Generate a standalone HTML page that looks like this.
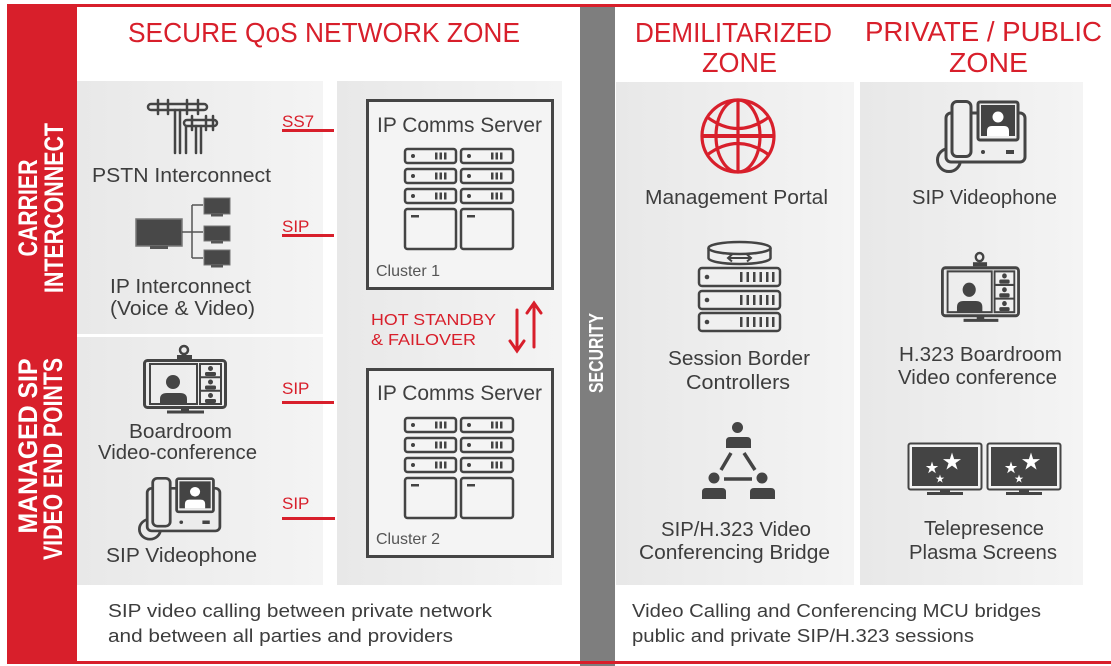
<!DOCTYPE html>
<html><head><meta charset="utf-8"><style>html,body{margin:0;padding:0;background:#fff}svg{display:block}</style></head>
<body>
<svg width="1111" height="666" viewBox="0 0 1111 666" xmlns="http://www.w3.org/2000/svg" font-family="'Liberation Sans', Arial, sans-serif">
<defs>
<linearGradient id="pg" x1="0" x2="1" y1="0" y2="0"><stop offset="0" stop-color="#e8e8e8"/><stop offset="1" stop-color="#f4f4f4"/></linearGradient>
</defs>
<rect width="1111" height="666" fill="#fff"/>

<!-- panels -->
<rect x="77" y="81" width="246" height="253" fill="url(#pg)"/>
<rect x="77" y="337" width="246" height="248" fill="url(#pg)"/>
<rect x="337" y="81" width="225" height="504" fill="url(#pg)"/>
<rect x="616" y="82" width="238" height="503" fill="url(#pg)"/>
<rect x="860" y="82" width="223" height="503" fill="url(#pg)"/>

<!-- security bar -->
<rect x="580" y="7" width="35" height="659" fill="#7e7e7e"/>

<!-- red frame -->
<rect x="7" y="4" width="1104" height="3" fill="#d81f2b"/>
<rect x="7" y="4" width="70" height="660" fill="#d81f2b"/>
<rect x="77" y="661" width="1034" height="3" fill="#d81f2b"/>

<!-- titles -->
<g fill="#d81f2b" font-size="28">
<text x="128" y="42" textLength="392" lengthAdjust="spacingAndGlyphs">SECURE QoS NETWORK ZONE</text>
<text x="635" y="42" textLength="197" lengthAdjust="spacingAndGlyphs">DEMILITARIZED</text>
<text x="702" y="72" textLength="75" lengthAdjust="spacingAndGlyphs">ZONE</text>
<text x="865" y="41" textLength="237" lengthAdjust="spacingAndGlyphs">PRIVATE / PUBLIC</text>
<text x="949" y="72" textLength="79" lengthAdjust="spacingAndGlyphs">ZONE</text>
</g>

<!-- vertical labels -->
<g fill="#fff" font-weight="bold" font-size="27" text-anchor="middle">
<text transform="translate(37,208) rotate(-90)" textLength="97" lengthAdjust="spacingAndGlyphs">CARRIER</text>
<text transform="translate(63,208) rotate(-90)" textLength="170" lengthAdjust="spacingAndGlyphs">INTERCONNECT</text>
<text transform="translate(37,446) rotate(-90)" textLength="175" lengthAdjust="spacingAndGlyphs">MANAGED SIP</text>
<text transform="translate(62,459) rotate(-90)" textLength="202" lengthAdjust="spacingAndGlyphs">VIDEO END POINTS</text>
<text transform="translate(603,353) rotate(-90)" font-size="20" textLength="80" lengthAdjust="spacingAndGlyphs">SECURITY</text>
</g>

<!-- server boxes -->
<rect x="367.5" y="100.5" width="185" height="188" fill="#f4f4f4" stroke="#454545" stroke-width="3"/>
<rect x="367.5" y="369.5" width="185" height="187" fill="#f4f4f4" stroke="#454545" stroke-width="3"/>

<g id="srv1" transform="translate(404,148)">
<g fill="#f4f4f4" stroke="#444" stroke-width="2.5">
<rect x="1" y="1" width="51" height="14" rx="2.5"/>
<rect x="1" y="21" width="51" height="14" rx="2.5"/>
<rect x="1" y="41" width="51" height="14" rx="2.5"/>
<rect x="1" y="61" width="51" height="40" rx="2.5"/>
<rect x="57" y="1" width="52" height="14" rx="2.5"/>
<rect x="57" y="21" width="52" height="14" rx="2.5"/>
<rect x="57" y="41" width="52" height="14" rx="2.5"/>
<rect x="57" y="61" width="52" height="40" rx="2.5"/>
</g>
<g fill="#444">
<circle cx="9" cy="8" r="2"/><circle cx="9" cy="28" r="2"/><circle cx="9" cy="48" r="2"/>
<circle cx="65" cy="8" r="2"/><circle cx="65" cy="28" r="2"/><circle cx="65" cy="48" r="2"/>
<rect x="31" y="4.5" width="2.5" height="7"/><rect x="35.5" y="4.5" width="2.5" height="7"/><rect x="40" y="4.5" width="2.5" height="7"/>
<rect x="31" y="24.5" width="2.5" height="7"/><rect x="35.5" y="24.5" width="2.5" height="7"/><rect x="40" y="24.5" width="2.5" height="7"/>
<rect x="31" y="44.5" width="2.5" height="7"/><rect x="35.5" y="44.5" width="2.5" height="7"/><rect x="40" y="44.5" width="2.5" height="7"/>
<rect x="87" y="4.5" width="2.5" height="7"/><rect x="91.5" y="4.5" width="2.5" height="7"/><rect x="96" y="4.5" width="2.5" height="7"/>
<rect x="87" y="24.5" width="2.5" height="7"/><rect x="91.5" y="24.5" width="2.5" height="7"/><rect x="96" y="24.5" width="2.5" height="7"/>
<rect x="87" y="44.5" width="2.5" height="7"/><rect x="91.5" y="44.5" width="2.5" height="7"/><rect x="96" y="44.5" width="2.5" height="7"/>
<rect x="7" y="67" width="8" height="2.5"/><rect x="63" y="67" width="8" height="2.5"/>
</g>
</g>
<g transform="translate(404,417)">
<g fill="#f4f4f4" stroke="#444" stroke-width="2.5">
<rect x="1" y="1" width="51" height="14" rx="2.5"/>
<rect x="1" y="21" width="51" height="14" rx="2.5"/>
<rect x="1" y="41" width="51" height="14" rx="2.5"/>
<rect x="1" y="61" width="51" height="40" rx="2.5"/>
<rect x="57" y="1" width="52" height="14" rx="2.5"/>
<rect x="57" y="21" width="52" height="14" rx="2.5"/>
<rect x="57" y="41" width="52" height="14" rx="2.5"/>
<rect x="57" y="61" width="52" height="40" rx="2.5"/>
</g>
<g fill="#444">
<circle cx="9" cy="8" r="2"/><circle cx="9" cy="28" r="2"/><circle cx="9" cy="48" r="2"/>
<circle cx="65" cy="8" r="2"/><circle cx="65" cy="28" r="2"/><circle cx="65" cy="48" r="2"/>
<rect x="31" y="4.5" width="2.5" height="7"/><rect x="35.5" y="4.5" width="2.5" height="7"/><rect x="40" y="4.5" width="2.5" height="7"/>
<rect x="31" y="24.5" width="2.5" height="7"/><rect x="35.5" y="24.5" width="2.5" height="7"/><rect x="40" y="24.5" width="2.5" height="7"/>
<rect x="31" y="44.5" width="2.5" height="7"/><rect x="35.5" y="44.5" width="2.5" height="7"/><rect x="40" y="44.5" width="2.5" height="7"/>
<rect x="87" y="4.5" width="2.5" height="7"/><rect x="91.5" y="4.5" width="2.5" height="7"/><rect x="96" y="4.5" width="2.5" height="7"/>
<rect x="87" y="24.5" width="2.5" height="7"/><rect x="91.5" y="24.5" width="2.5" height="7"/><rect x="96" y="24.5" width="2.5" height="7"/>
<rect x="87" y="44.5" width="2.5" height="7"/><rect x="91.5" y="44.5" width="2.5" height="7"/><rect x="96" y="44.5" width="2.5" height="7"/>
<rect x="7" y="67" width="8" height="2.5"/><rect x="63" y="67" width="8" height="2.5"/>
</g>
</g>

<g fill="#404040">
<text x="377" y="132" font-size="21" textLength="165" lengthAdjust="spacingAndGlyphs">IP Comms Server</text>
<text x="377" y="400" font-size="21" textLength="165" lengthAdjust="spacingAndGlyphs">IP Comms Server</text>
<text x="376" y="276" font-size="16" fill="#555" textLength="64" lengthAdjust="spacingAndGlyphs">Cluster 1</text>
<text x="376" y="544" font-size="16" fill="#555" textLength="64" lengthAdjust="spacingAndGlyphs">Cluster 2</text>
</g>

<!-- hot standby -->
<g fill="#d81f2b" font-size="16">
<text x="371" y="325" textLength="125" lengthAdjust="spacingAndGlyphs">HOT STANDBY</text>
<text x="371" y="345" textLength="105" lengthAdjust="spacingAndGlyphs">&amp; FAILOVER</text>
</g>
<g stroke="#d81f2b" stroke-width="3" fill="none" stroke-linecap="round">
<line x1="517" y1="310" x2="517" y2="350"/>
<polyline points="510,341 517,351 524,341"/>
<line x1="534" y1="304" x2="534" y2="347"/>
<polyline points="527,313 534,303 541,313"/>
</g>

<!-- SIP / SS7 connectors -->
<g fill="#d81f2b" font-size="17">
<text x="282" y="127">SS7</text>
<rect x="282" y="129" width="52" height="3"/>
<text x="282" y="232">SIP</text>
<rect x="282" y="234" width="52" height="3"/>
<text x="282" y="394">SIP</text>
<rect x="282" y="401" width="52" height="3"/>
<text x="282" y="509">SIP</text>
<rect x="282" y="517" width="53" height="3"/>
</g>

<!-- PSTN pole icon -->
<g stroke="#444" stroke-width="2.5" fill="none" stroke-linecap="round">
<rect x="148" y="104" width="59" height="6" rx="3"/>
<line x1="158" y1="100" x2="158" y2="114"/><line x1="168" y1="100" x2="168" y2="114"/>
<line x1="187" y1="100" x2="187" y2="114"/><line x1="198" y1="100" x2="198" y2="114"/>
<line x1="175" y1="110" x2="175" y2="153"/><line x1="180" y1="110" x2="180" y2="153"/>
<rect x="184" y="120" width="33" height="6" rx="3"/>
<line x1="192" y1="116" x2="192" y2="130"/><line x1="206" y1="116" x2="206" y2="130"/><line x1="213" y1="116" x2="213" y2="130"/>
<line x1="186" y1="126" x2="186" y2="153"/>
<line x1="196" y1="126" x2="196" y2="153"/><line x1="201" y1="126" x2="201" y2="153"/>
</g>

<!-- IP interconnect icon -->
<g>
<rect x="136" y="219" width="46" height="27" fill="#484848" stroke="#777" stroke-width="1.5"/>
<rect x="150" y="246" width="18" height="3" fill="#555"/>
<g stroke="#555" stroke-width="1.5" fill="none">
<line x1="182" y1="232" x2="192" y2="232"/>
<line x1="192" y1="205" x2="192" y2="258"/>
<line x1="192" y1="205" x2="203" y2="205"/>
<line x1="192" y1="232" x2="203" y2="232"/>
<line x1="192" y1="258" x2="203" y2="258"/>
</g>
<rect x="204" y="198" width="26" height="16" fill="#484848" stroke="#777" stroke-width="1"/>
<rect x="211" y="214" width="12" height="2.5" fill="#555"/>
<rect x="204" y="226" width="26" height="15" fill="#484848" stroke="#777" stroke-width="1"/>
<rect x="211" y="241" width="12" height="2.5" fill="#555"/>
<rect x="204" y="250" width="26" height="15" fill="#484848" stroke="#777" stroke-width="1"/>
<rect x="211" y="265" width="12" height="2.5" fill="#555"/>
</g>

<!-- boardroom left -->
<g transform="translate(143,345)">
<circle cx="41" cy="5" r="4" fill="none" stroke="#444" stroke-width="2.5"/>
<rect x="34" y="10" width="15" height="4" fill="#444"/>
<rect x="1.5" y="15.5" width="81" height="47" rx="3" fill="none" stroke="#444" stroke-width="3"/>
<rect x="7" y="19" width="47" height="40" fill="none" stroke="#444" stroke-width="2"/>
<circle cx="30" cy="37" r="7" fill="#444"/>
<path d="M17,59 L17,54 Q17,48 24,48 L37,48 Q44,48 44,54 L44,59 Z" fill="#444"/>
<rect x="57" y="19" width="21" height="40" fill="none" stroke="#444" stroke-width="2"/>
<line x1="57" y1="32.3" x2="78" y2="32.3" stroke="#444" stroke-width="2"/>
<line x1="57" y1="45.7" x2="78" y2="45.7" stroke="#444" stroke-width="2"/>
<g fill="#444">
<circle cx="67.5" cy="23.5" r="2.5"/><rect x="62" y="27" width="11" height="4" rx="1.5"/>
<circle cx="67.5" cy="37" r="2.5"/><rect x="62" y="40.5" width="11" height="4" rx="1.5"/>
<circle cx="67.5" cy="50.5" r="2.5"/><rect x="62" y="54" width="11" height="4" rx="1.5"/>
</g>
<rect x="38" y="62" width="8" height="4" fill="#444"/>
<rect x="24" y="65.5" width="37" height="3" fill="#444"/>
</g>

<!-- boardroom right -->
<g transform="translate(941,252) scale(0.94,1.02)">
<circle cx="41" cy="5" r="4" fill="none" stroke="#444" stroke-width="2.5"/>
<rect x="34" y="10" width="15" height="4" fill="#444"/>
<rect x="1.5" y="15.5" width="81" height="47" rx="3" fill="none" stroke="#444" stroke-width="3"/>
<rect x="7" y="19" width="47" height="40" fill="none" stroke="#444" stroke-width="2"/>
<circle cx="30" cy="37" r="7" fill="#444"/>
<path d="M17,59 L17,54 Q17,48 24,48 L37,48 Q44,48 44,54 L44,59 Z" fill="#444"/>
<rect x="57" y="19" width="21" height="40" fill="none" stroke="#444" stroke-width="2"/>
<line x1="57" y1="32.3" x2="78" y2="32.3" stroke="#444" stroke-width="2"/>
<line x1="57" y1="45.7" x2="78" y2="45.7" stroke="#444" stroke-width="2"/>
<g fill="#444">
<circle cx="67.5" cy="23.5" r="2.5"/><rect x="62" y="27" width="11" height="4" rx="1.5"/>
<circle cx="67.5" cy="37" r="2.5"/><rect x="62" y="40.5" width="11" height="4" rx="1.5"/>
<circle cx="67.5" cy="50.5" r="2.5"/><rect x="62" y="54" width="11" height="4" rx="1.5"/>
</g>
<rect x="38" y="62" width="8" height="4" fill="#444"/>
<rect x="24" y="65.5" width="37" height="3" fill="#444"/>
</g>

<!-- videophone right -->
<g transform="translate(936,100)">
<circle cx="13" cy="60" r="11.5" fill="none" stroke="#444" stroke-width="3"/>
<rect x="10" y="13" width="79" height="49" rx="5" fill="#efefef" stroke="#444" stroke-width="3"/>
<rect x="16" y="1.5" width="19" height="55" rx="5" fill="#efefef" stroke="#444" stroke-width="3"/>
<rect x="42" y="2" width="40" height="38" rx="2" fill="#efefef" stroke="#444" stroke-width="3"/>
<rect x="45" y="5" width="34" height="31" fill="#444"/>
<circle cx="62" cy="17" r="5.5" fill="#fff"/>
<path d="M51,36 L51,31 Q51,26 56,26 L68,26 Q73,26 73,31 L73,36 Z" fill="#fff"/>
<circle cx="47" cy="52" r="2" fill="#444"/>
<rect x="70" y="50" width="8" height="4" fill="#444"/>
</g>

<!-- videophone left -->
<g transform="translate(138,477) scale(0.92,0.87)">
<circle cx="13" cy="60" r="11.5" fill="none" stroke="#444" stroke-width="3"/>
<rect x="10" y="13" width="79" height="49" rx="5" fill="#ececec" stroke="#444" stroke-width="3"/>
<rect x="16" y="1.5" width="19" height="55" rx="5" fill="#ececec" stroke="#444" stroke-width="3"/>
<rect x="42" y="2" width="40" height="38" rx="2" fill="#ececec" stroke="#444" stroke-width="3"/>
<rect x="45" y="5" width="34" height="31" fill="#444"/>
<circle cx="62" cy="17" r="5.5" fill="#fff"/>
<path d="M51,36 L51,31 Q51,26 56,26 L68,26 Q73,26 73,31 L73,36 Z" fill="#fff"/>
<circle cx="47" cy="52" r="2" fill="#444"/>
<rect x="70" y="50" width="8" height="4" fill="#444"/>
</g>

<!-- globe -->
<g stroke="#d81f2b" stroke-width="3.2" fill="none">
<circle cx="738" cy="136" r="36"/>
<ellipse cx="738" cy="136" rx="22" ry="36"/>
<line x1="738" y1="100" x2="738" y2="172"/>
<line x1="702" y1="136" x2="774" y2="136" stroke-width="4"/>
<path d="M707,117 Q738,140 769,117"/>
<path d="M707,155 Q738,132 769,155"/>
</g>

<!-- SBC icon -->
<g stroke="#444" stroke-width="2.5" fill="#f0f0f0">
<path d="M708.5,248 L708.5,258 A31,6 0 0 0 770.5,258 L770.5,248"/>
<ellipse cx="739.5" cy="248" rx="31" ry="6"/>
<rect x="699" y="268" width="81" height="18" rx="3"/>
<rect x="699" y="291" width="81" height="18" rx="3"/>
<rect x="699" y="313" width="81" height="18" rx="3"/>
</g>
<g stroke="#444" stroke-width="2" fill="none">
<line x1="728" y1="258" x2="751" y2="258"/>
<polyline points="732,254.5 728,258 732,261.5"/>
<polyline points="747,254.5 751,258 747,261.5"/>
</g>
<g fill="#444">
<circle cx="707" cy="277" r="2.3"/><circle cx="707" cy="300" r="2.3"/><circle cx="707" cy="322" r="2.3"/>
<rect x="740" y="272" width="2.5" height="10"/><rect x="746.5" y="272" width="2.5" height="10"/><rect x="753" y="272" width="2.5" height="10"/><rect x="759.5" y="272" width="2.5" height="10"/><rect x="766" y="272" width="2.5" height="10"/><rect x="772" y="272" width="2.5" height="10"/>
<rect x="740" y="295" width="2.5" height="10"/><rect x="746.5" y="295" width="2.5" height="10"/><rect x="753" y="295" width="2.5" height="10"/><rect x="759.5" y="295" width="2.5" height="10"/><rect x="766" y="295" width="2.5" height="10"/><rect x="772" y="295" width="2.5" height="10"/>
<rect x="740" y="317" width="2.5" height="10"/><rect x="746.5" y="317" width="2.5" height="10"/><rect x="753" y="317" width="2.5" height="10"/><rect x="759.5" y="317" width="2.5" height="10"/><rect x="766" y="317" width="2.5" height="10"/><rect x="772" y="317" width="2.5" height="10"/>
</g>

<!-- bridge icon -->
<g fill="#444">
<circle cx="737.5" cy="427.5" r="5.5"/>
<path d="M726,448 L726,441 Q726,437 730,437 L747,437 Q751,437 751,441 L751,448 Z"/>
<circle cx="714" cy="478" r="5.5"/>
<path d="M702,499 L702,492 Q702,488 706,488 L722,488 Q726,488 726,492 L726,499 Z"/>
<circle cx="762" cy="478" r="5.5"/>
<path d="M750,499 L750,492 Q750,488 754,488 L771,488 Q775,488 775,492 L775,499 Z"/>
</g>
<g stroke="#444" stroke-width="3.5">
<line x1="731" y1="453" x2="721" y2="470"/>
<line x1="744" y1="453" x2="755" y2="470"/>
<line x1="724" y1="479" x2="752" y2="479"/>
</g>

<!-- telepresence -->
<g>
<rect x="908.5" y="443.5" width="73" height="46" rx="2" fill="#f4f4f4" stroke="#444" stroke-width="2"/>
<rect x="912" y="447" width="66" height="39" fill="#444"/>
<rect x="940" y="490" width="10" height="3" fill="#444"/>
<rect x="927" y="492" width="36" height="3" fill="#444"/>
<rect x="987.5" y="443.5" width="73" height="46" rx="2" fill="#f4f4f4" stroke="#444" stroke-width="2"/>
<rect x="991" y="447" width="66" height="39" fill="#444"/>
<rect x="1019" y="490" width="10" height="3" fill="#444"/>
<rect x="1006" y="492" width="36" height="3" fill="#444"/>
<g fill="#fff">
<polygon transform="translate(952,462) scale(9.5)" points="0,-1 0.2245,-0.309 0.951,-0.309 0.363,0.118 0.588,0.809 0,0.382 -0.588,0.809 -0.363,0.118 -0.951,-0.309 -0.2245,-0.309"/>
<polygon transform="translate(932,468) scale(6.5)" points="0,-1 0.2245,-0.309 0.951,-0.309 0.363,0.118 0.588,0.809 0,0.382 -0.588,0.809 -0.363,0.118 -0.951,-0.309 -0.2245,-0.309"/>
<polygon transform="translate(940,479) scale(4.5)" points="0,-1 0.2245,-0.309 0.951,-0.309 0.363,0.118 0.588,0.809 0,0.382 -0.588,0.809 -0.363,0.118 -0.951,-0.309 -0.2245,-0.309"/>
<polygon transform="translate(1031,462) scale(9.5)" points="0,-1 0.2245,-0.309 0.951,-0.309 0.363,0.118 0.588,0.809 0,0.382 -0.588,0.809 -0.363,0.118 -0.951,-0.309 -0.2245,-0.309"/>
<polygon transform="translate(1011,468) scale(6.5)" points="0,-1 0.2245,-0.309 0.951,-0.309 0.363,0.118 0.588,0.809 0,0.382 -0.588,0.809 -0.363,0.118 -0.951,-0.309 -0.2245,-0.309"/>
<polygon transform="translate(1019,479) scale(4.5)" points="0,-1 0.2245,-0.309 0.951,-0.309 0.363,0.118 0.588,0.809 0,0.382 -0.588,0.809 -0.363,0.118 -0.951,-0.309 -0.2245,-0.309"/>
</g>
</g>

<!-- labels -->
<g fill="#3d3d3d" font-size="20">
<text x="92" y="182" textLength="179" lengthAdjust="spacingAndGlyphs">PSTN Interconnect</text>
<text x="110" y="293" textLength="141" lengthAdjust="spacingAndGlyphs">IP Interconnect</text>
<text x="110" y="315" textLength="145" lengthAdjust="spacingAndGlyphs">(Voice &amp; Video)</text>
<text x="129" y="438" textLength="103" lengthAdjust="spacingAndGlyphs">Boardroom</text>
<text x="98" y="459" textLength="159" lengthAdjust="spacingAndGlyphs">Video-conference</text>
<text x="106" y="562" textLength="151" lengthAdjust="spacingAndGlyphs">SIP Videophone</text>

<text x="645" y="204" textLength="183" lengthAdjust="spacingAndGlyphs">Management Portal</text>
<text x="668" y="365" textLength="142" lengthAdjust="spacingAndGlyphs">Session  Border</text>
<text x="686" y="389" textLength="104" lengthAdjust="spacingAndGlyphs">Controllers</text>
<text x="661" y="536" textLength="150" lengthAdjust="spacingAndGlyphs">SIP/H.323 Video</text>
<text x="639" y="559" textLength="191" lengthAdjust="spacingAndGlyphs">Conferencing  Bridge</text>

<text x="912" y="204" textLength="145" lengthAdjust="spacingAndGlyphs">SIP Videophone</text>
<text x="899" y="361" textLength="163" lengthAdjust="spacingAndGlyphs">H.323  Boardroom</text>
<text x="898" y="384" textLength="159" lengthAdjust="spacingAndGlyphs">Video  conference</text>
<text x="924" y="535" textLength="120" lengthAdjust="spacingAndGlyphs">Telepresence</text>
<text x="909" y="559" textLength="148" lengthAdjust="spacingAndGlyphs">Plasma  Screens</text>
</g>

<g fill="#3d3d3d" font-size="18">
<text x="108" y="617" textLength="384" lengthAdjust="spacingAndGlyphs">SIP video calling between private network</text>
<text x="108" y="642" textLength="345" lengthAdjust="spacingAndGlyphs">and between all parties and providers</text>
<text x="632" y="617" textLength="409" lengthAdjust="spacingAndGlyphs">Video Calling and Conferencing MCU bridges</text>
<text x="632" y="642" textLength="342" lengthAdjust="spacingAndGlyphs">public and private SIP/H.323 sessions</text>
</g>
</svg>
</body></html>
